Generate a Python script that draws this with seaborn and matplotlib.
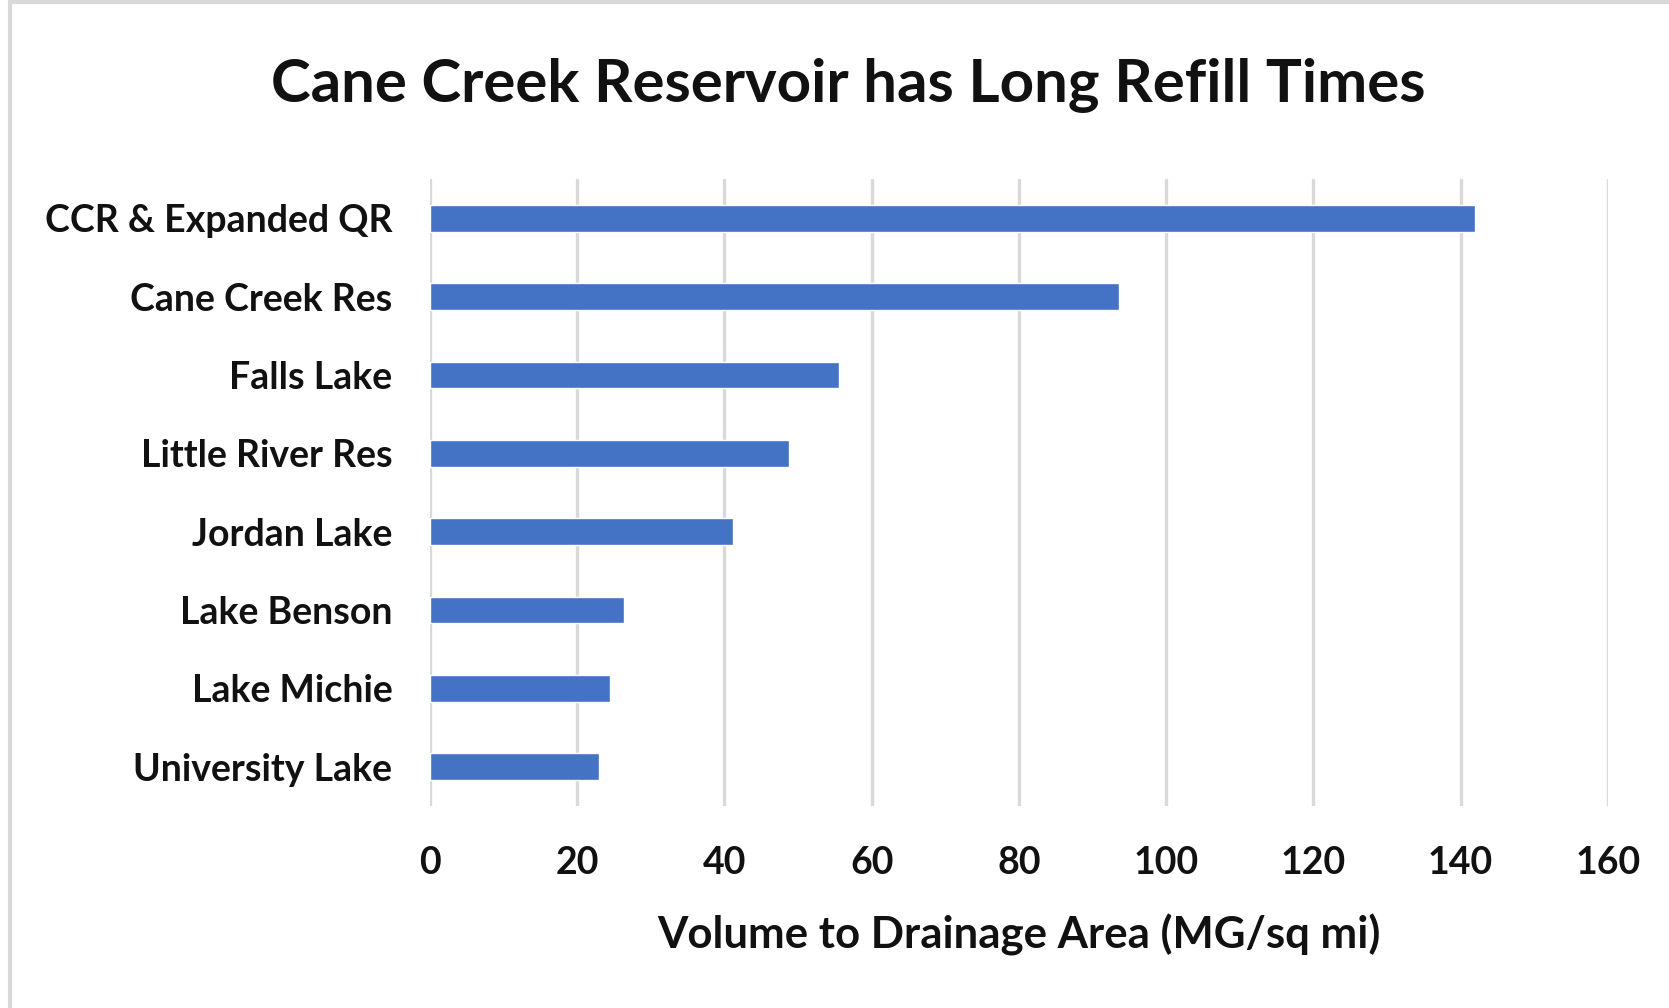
import matplotlib
matplotlib.use("Agg")
import matplotlib.pyplot as plt
import seaborn as sns
import pandas as pd
from matplotlib.patches import Rectangle

# Data
reservoirs = ["CCR & Expanded QR", "Cane Creek Res", "Falls Lake", "Little River Res",
              "Jordan Lake", "Lake Benson", "Lake Michie", "University Lake"]
volume_ratio = [142.0, 93.6, 55.5, 48.8, 41.2, 26.3, 24.5, 22.9]
x_ticks = [0, 20, 40, 60, 80, 100, 120, 140, 160]

title = "Cane Creek Reservoir has Long Refill Times"
x_label = "Volume to Drainage Area (MG/sq mi)"

df = pd.DataFrame({"Reservoir": reservoirs, "Volume": volume_ratio})

sns.set_theme(style="white")
plt.rcParams['font.family'] = ['Lato', 'DejaVu Sans']

fig = plt.figure(figsize=(16.69, 10.08), dpi=100)
ax = fig.add_axes([0.2576, 0.2004, 0.7058, 0.6220])

sns.barplot(data=df, x="Volume", y="Reservoir", orient="h", color="#4472c4",
            saturation=1, width=0.34, ax=ax, zorder=3)

ax.set_xlim(0, 160)
ax.set_xticks(x_ticks)
ax.set_xticklabels([str(t) for t in x_ticks])
ax.grid(axis="x", color="#d9d9d9", linewidth=2.4, zorder=0)
ax.grid(axis="y", visible=False)
for s in ax.spines.values():
    s.set_visible(False)

ax.tick_params(axis="x", length=0, pad=29, labelsize=27)
ax.tick_params(axis="y", length=0, pad=27, labelsize=27)
for lbl in ax.get_xticklabels() + ax.get_yticklabels():
    lbl.set_fontweight("bold")
    lbl.set_color("#111111")

ax.set_ylabel("")
ax.set_xlabel(x_label, fontsize=31.5, fontweight="bold", color="#111111", labelpad=24)

fig.text(0.508, 0.915, title, ha="center", va="center", fontsize=43.2,
         fontweight="bold", color="#111111")

# light frame along the top and left edge
fig.patches.append(Rectangle((0.0057, -0.05), 1.2, 1.0483, transform=fig.transFigure,
                             fill=False, edgecolor="#d9d9d9", linewidth=3))

fig.savefig("out.png", dpi=100, facecolor="white")
